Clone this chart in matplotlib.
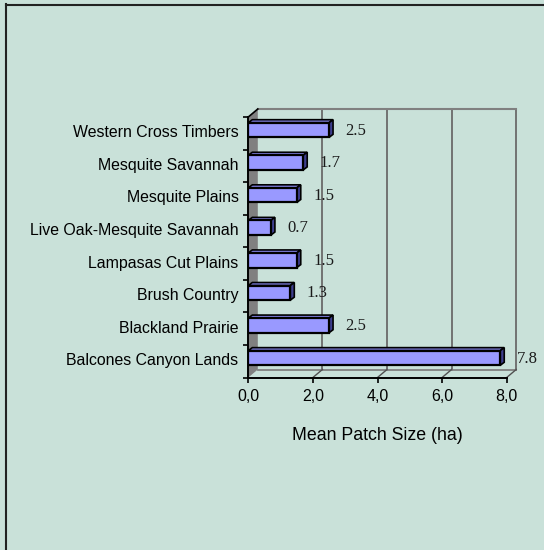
import numpy as np
import matplotlib.pyplot as plt
from matplotlib.patches import Polygon
from matplotlib.lines import Line2D

regions = ['Western Cross Timbers', 'Mesquite Savannah', 'Mesquite Plains',
           'Live Oak-Mesquite Savannah', 'Lampasas Cut Plains', 'Brush Country',
           'Blackland Prairie', 'Balcones Canyon Lands']
patch_size = [2.5, 1.7, 1.5, 0.7, 1.5, 1.3, 2.5, 7.8]
x_ticks = [0, 2, 4, 6, 8]
x_ticklabels = ['0,0', '2,0', '4,0', '6,0', '8,0']
x_label = 'Mean Patch Size (ha)'

bg = '#C9E1D9'
plt.rcParams['font.family'] = ['Liberation Sans', 'DejaVu Sans']

fig = plt.figure(figsize=(5.44, 5.5), dpi=100, facecolor=bg)
W, H = 544, 550
ax = fig.add_axes([248.3 / W, (H - 377.5) / H, 258.4 / W, 260.5 / H])
ax.set_facecolor('none')
ax.set_xlim(0, 8)
ax.set_ylim(-0.5, 7.5)

# pixel -> data helpers for the fake 3d depth
px_x = 8 / 258.4
px_y = 8 / 260.5
wdx, wdy = 9.5 * px_x, 8 * px_y      # wall depth
bdx, bdy = 4 * px_x, 3 * px_y        # bar depth

n = len(regions)
ypos = np.arange(n)[::-1]
y0, y1 = -0.5, 7.5

# left wall
ax.add_patch(Polygon([(0, y0), (0, y1), (wdx, y1 + wdy), (wdx, y0 + wdy)],
                     closed=True, facecolor='#808080', edgecolor='none', clip_on=False, zorder=1))
# back wall grid + frame
for xt in x_ticks[1:]:
    ax.add_line(Line2D([xt + wdx, xt + wdx], [y0 + wdy, y1 + wdy], color='#6A6A6A', lw=1.3,
                       clip_on=False, zorder=1))
ax.add_line(Line2D([wdx, 8 + wdx], [y1 + wdy, y1 + wdy], color='#808080', lw=1.5, clip_on=False, zorder=1))
# floor
ax.add_line(Line2D([wdx, 8 + wdx], [y0 + wdy, y0 + wdy], color='#808080', lw=1.3, clip_on=False, zorder=1))
for xt in x_ticks[1:]:
    ax.add_line(Line2D([xt, xt + wdx], [y0, y0 + wdy], color='#505050', lw=1.0, clip_on=False, zorder=1))
ax.add_line(Line2D([0, wdx], [y1, y1 + wdy], color='black', lw=1.2, clip_on=False, zorder=2))

# bars
h = 0.45
yb = ypos + 0.1
ax.barh(yb, patch_size, height=h, color='#9999FF', edgecolor='black', linewidth=1.6, zorder=4)
for v, y in zip(patch_size, yb):
    top = [(0, y + h / 2), (v, y + h / 2), (v + bdx, y + h / 2 + bdy), (bdx, y + h / 2 + bdy)]
    side = [(v, y - h / 2), (v, y + h / 2), (v + bdx, y + h / 2 + bdy), (v + bdx, y - h / 2 + bdy)]
    ax.add_patch(Polygon(top, closed=True, facecolor='#7F7FE0', edgecolor='black', lw=1.2,
                         clip_on=False, zorder=3))
    ax.add_patch(Polygon(side, closed=True, facecolor='#3E3E8E', edgecolor='black', lw=1.2,
                         clip_on=False, zorder=3))
    ax.annotate(f'{v:.1f}', (v + bdx, y - 0.02), xytext=(9, 0), textcoords='offset points',
                ha='left', va='center', fontsize=12, family=['Liberation Serif', 'DejaVu Serif'],
                color='#1A1A1A', annotation_clip=False, zorder=5)

# axes styling
for s in ['top', 'right']:
    ax.spines[s].set_visible(False)
ax.spines['left'].set_linewidth(1.4)
ax.spines['bottom'].set_linewidth(1.4)
ax.set_yticks(ypos + 0.06)
ax.set_yticklabels(regions, fontsize=11.4)
ax.set_yticks(np.arange(-0.5, n, 1.0), minor=True)
ax.tick_params(axis='y', which='major', length=0, pad=7)
ax.tick_params(axis='y', which='minor', length=3.6, width=1.2, direction='out')
ax.set_xticks(x_ticks)
ax.set_xticklabels(x_ticklabels, fontsize=11.5)
ax.tick_params(axis='x', length=3.6, width=1.2, direction='out', pad=5)
ax.set_xlabel(x_label, fontsize=12.8, labelpad=16)

# outer frame of the chart area
fig.add_artist(Line2D([5.5 / W, 5.5 / W], [0, (H - 4) / H], color='#222222', lw=1.5))
fig.add_artist(Line2D([5.5 / W, 1], [(H - 4.5) / H, (H - 4.5) / H], color='#222222', lw=1.5))

fig.savefig('out.png', dpi=100, facecolor=bg)
